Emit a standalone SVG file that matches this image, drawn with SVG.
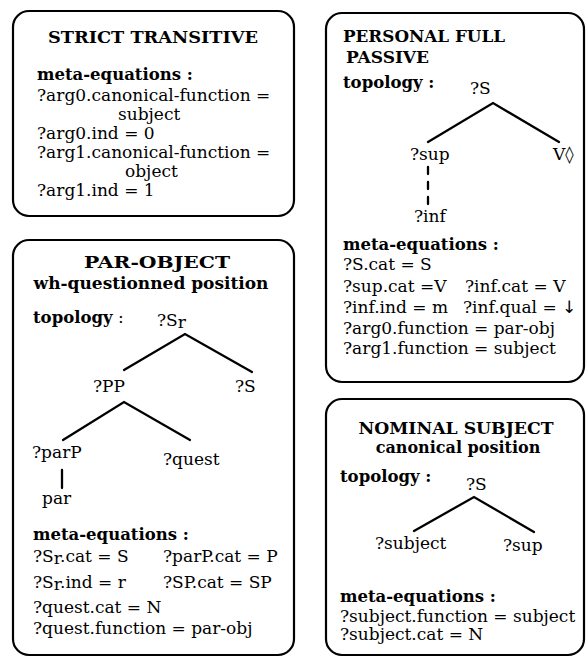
<svg xmlns="http://www.w3.org/2000/svg" width="588" height="658" viewBox="0 0 588 658">
<style>
.box{fill:none;stroke:#000;stroke-width:2.2}
text{font-family:"DejaVu Serif","Liberation Serif",serif;font-size:17px;fill:#000}
.b{font-weight:bold;font-size:16.5px}
.h{font-weight:bold;font-size:17px}
.c{text-anchor:middle}
.ln{stroke:#000;stroke-width:2.3;fill:none;stroke-linecap:round}
.ar{font-family:"DejaVu Sans","Liberation Sans",sans-serif}
</style>
<rect width="588" height="658" fill="#fff"/>
<g id="strict-transitive">
<rect class="box" x="13" y="11" width="281" height="205" rx="16"/>
<text class="h c" x="153" y="43" textLength="210" lengthAdjust="spacingAndGlyphs">STRICT TRANSITIVE</text>
<text class="b" x="37" y="80">meta-equations :</text>
<text x="37" y="101">?arg0.canonical-function =</text>
<text x="118" y="120">subject</text>
<text x="37" y="139">?arg0.ind = 0</text>
<text x="37" y="158">?arg1.canonical-function =</text>
<text x="125" y="177">object</text>
<text x="37" y="196">?arg1.ind = 1</text>
</g>
<g id="par-object">
<rect class="box" x="13" y="240" width="281" height="415" rx="16"/>
<text class="h c" x="157" y="268" textLength="146" lengthAdjust="spacingAndGlyphs">PAR-OBJECT</text>
<text class="h c" x="151" y="289">wh-questionned position</text>
<text x="33" y="323"><tspan class="b">topology</tspan> :</text>
<text x="157" y="326">?S<tspan dy="2">r</tspan></text>
<text x="93" y="392">?PP</text>
<text x="235" y="392">?S</text>
<text x="32" y="458">?parP</text>
<text x="163" y="465">?quest</text>
<text x="42" y="504">par</text>
<text class="b" x="33" y="540">meta-equations :</text>
<text x="33" y="562">?S<tspan dy="2">r</tspan><tspan dy="-2">.cat = S</tspan></text>
<text x="163" y="562">?parP.cat = P</text>
<text x="33" y="588">?S<tspan dy="2">r</tspan><tspan dy="-2">.ind = r</tspan></text>
<text x="163" y="588">?SP.cat = SP</text>
<text x="33" y="613">?quest.cat = N</text>
<text x="33" y="634">?quest.function = par-obj</text>
</g>
<g id="personal-full-passive">
<rect class="box" x="326" y="13" width="258" height="369" rx="16"/>
<text class="h" x="343" y="42" textLength="162" lengthAdjust="spacingAndGlyphs">PERSONAL FULL</text>
<text class="h" x="346" y="63">PASSIVE</text>
<text class="b" x="343" y="88">topology :</text>
<text x="470" y="94">?S</text>
<text x="410" y="160">?sup</text>
<text x="553" y="160">V◊</text>
<text x="414" y="222">?inf</text>
<text class="b" x="343" y="250">meta-equations :</text>
<text x="343" y="270">?S.cat = S</text>
<text x="343" y="292">?sup.cat =V</text>
<text x="465" y="292">?inf.cat = V</text>
<text x="343" y="313">?inf.ind = m</text>
<text x="463" y="313">?inf.qual = <tspan class="ar">↓</tspan></text>
<text x="343" y="334">?arg0.function = par-obj</text>
<text x="343" y="354">?arg1.function = subject</text>
</g>
<g id="nominal-subject">
<rect class="box" x="326" y="399" width="258" height="256" rx="16"/>
<text class="h c" x="456" y="434" textLength="195" lengthAdjust="spacingAndGlyphs">NOMINAL SUBJECT</text>
<text class="h c" x="458" y="453" style="font-size:16px">canonical position</text>
<text class="b" x="340" y="482">topology :</text>
<text x="466" y="490">?S</text>
<text x="375" y="549">?subject</text>
<text x="503" y="551">?sup</text>
<text class="b" x="340" y="602">meta-equations :</text>
<text x="340" y="622">?subject.function = subject</text>
<text x="340" y="640">?subject.cat = N</text>
</g>
<g id="connectors">
<path class="ln" d="M124,370 L185,334 L252,372"/>
<path class="ln" d="M63,440 L124,402 L190,440"/>
<line class="ln" x1="62" y1="470" x2="62" y2="488" stroke-width="3"/>
<path class="ln" d="M428,142 L493,103 L559,142"/>
<line class="ln" x1="428" y1="167" x2="428" y2="207" stroke-dasharray="7 8" stroke-linecap="butt"/>
<path class="ln" d="M414,531 L474,497 L534,532"/>
</g>
</svg>
